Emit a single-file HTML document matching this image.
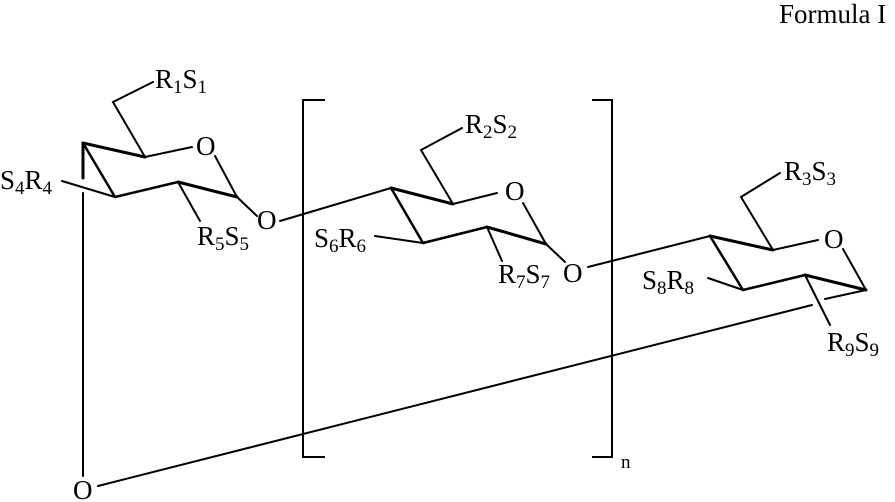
<!DOCTYPE html>
<html><head><style>
html,body{margin:0;padding:0;background:#fff;}
svg{display:block;}
text{font-family:"Liberation Serif",serif;font-size:27px;fill:#000;}
tspan.s{font-size:19px;}
</style></head><body>
<svg width="895" height="502" viewBox="0 0 895 502" xmlns="http://www.w3.org/2000/svg">
<g stroke="#000" stroke-width="2" fill="none" stroke-linecap="round">
<!-- Ring 1 -->
<polyline points="153,82 113,102 145,157 192,147"/>
<line x1="83" y1="143" x2="145" y2="157" stroke-width="3"/>
<line x1="83" y1="143" x2="115" y2="197" stroke-width="2.5"/>
<line x1="115" y1="197" x2="178" y2="182" stroke-width="2.5"/>
<line x1="178" y1="182" x2="237" y2="197" stroke-width="3"/>
<line x1="215" y1="156" x2="237" y2="197"/>
<line x1="237" y1="197" x2="257" y2="216"/>
<line x1="178" y1="182" x2="200" y2="221"/>
<line x1="62" y1="181" x2="115" y2="197"/>
<line x1="83" y1="143" x2="83" y2="178" stroke-width="3"/>
<line x1="83" y1="193" x2="83" y2="476"/>
<line x1="280" y1="221" x2="391" y2="188"/>
<!-- Ring 2 -->
<polyline points="462,128 421,150 453,204 497,193"/>
<line x1="391" y1="188" x2="453" y2="204" stroke-width="3"/>
<line x1="391" y1="188" x2="423" y2="243" stroke-width="2.5"/>
<line x1="423" y1="243" x2="487" y2="227" stroke-width="2.5"/>
<line x1="487" y1="227" x2="546" y2="244" stroke-width="3"/>
<line x1="523" y1="203" x2="546" y2="244"/>
<line x1="546" y1="244" x2="565" y2="262"/>
<line x1="487" y1="227" x2="502" y2="261"/>
<line x1="375" y1="236" x2="423" y2="243"/>
<line x1="588" y1="267" x2="710" y2="236"/>
<!-- Ring 3 -->
<polyline points="780,173 741,197 773,250 818,240"/>
<line x1="710" y1="236" x2="773" y2="250" stroke-width="3"/>
<line x1="710" y1="236" x2="743" y2="290" stroke-width="2.5"/>
<line x1="743" y1="290" x2="805" y2="275" stroke-width="2.5"/>
<line x1="805" y1="275" x2="866" y2="290" stroke-width="3"/>
<line x1="843" y1="249" x2="866" y2="290"/>
<line x1="805" y1="275" x2="830" y2="325"/>
<line x1="708" y1="278" x2="743" y2="290"/>
<line x1="866" y1="290" x2="825" y2="299"/>
<line x1="812" y1="305" x2="98" y2="486"/>
<!-- Brackets -->
<polyline points="325,100 303,100 303,457 325,457" stroke-linecap="butt"/>
<polyline points="592,100 612,100 612,457 592,457" stroke-linecap="butt"/>
</g>
<text x="779" y="23">Formula I</text>
<text x="155" y="88">R<tspan class="s" dy="5">1</tspan><tspan dy="-5">S</tspan><tspan class="s" dy="5">1</tspan></text>
<text x="196" y="155">O</text>
<text x="0" y="189">S<tspan class="s" dy="5">4</tspan><tspan dy="-5">R</tspan><tspan class="s" dy="5">4</tspan></text>
<text x="197" y="245">R<tspan class="s" dy="5">5</tspan><tspan dy="-5">S</tspan><tspan class="s" dy="5">5</tspan></text>
<text x="257" y="229">O</text>
<text x="465" y="133">R<tspan class="s" dy="5">2</tspan><tspan dy="-5">S</tspan><tspan class="s" dy="5">2</tspan></text>
<text x="505" y="200">O</text>
<text x="314" y="247">S<tspan class="s" dy="5">6</tspan><tspan dy="-5">R</tspan><tspan class="s" dy="5">6</tspan></text>
<text x="498" y="283">R<tspan class="s" dy="5">7</tspan><tspan dy="-5">S</tspan><tspan class="s" dy="5">7</tspan></text>
<text x="563" y="282">O</text>
<text x="784" y="180">R<tspan class="s" dy="5">3</tspan><tspan dy="-5">S</tspan><tspan class="s" dy="5">3</tspan></text>
<text x="824" y="248">O</text>
<text x="642" y="289">S<tspan class="s" dy="5">8</tspan><tspan dy="-5">R</tspan><tspan class="s" dy="5">8</tspan></text>
<text x="827" y="351">R<tspan class="s" dy="5">9</tspan><tspan dy="-5">S</tspan><tspan class="s" dy="5">9</tspan></text>
<text x="621" y="468" style="font-size:19px">n</text>
<text x="73" y="499">O</text>
</svg>
</body></html>
